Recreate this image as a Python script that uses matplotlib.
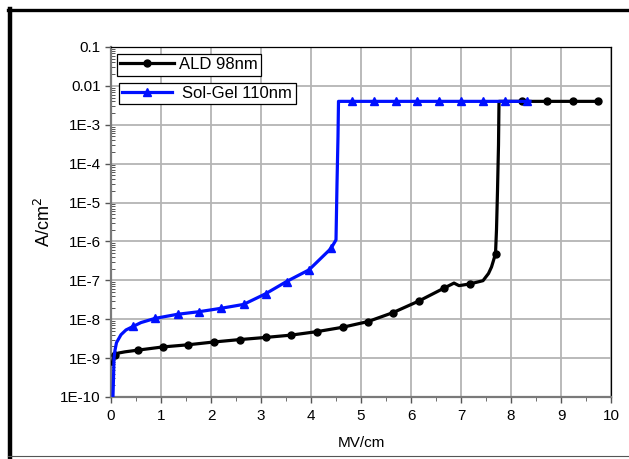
# -*- coding: utf-8 -*-

"""J-E curves of ALD and Sol-Gel films on a log scale."""

import matplotlib
matplotlib.use('Agg')
import matplotlib.pyplot as plt
from matplotlib.lines import Line2D
from matplotlib.ticker import FixedLocator, LogLocator, FuncFormatter
import numpy as np

plt.rcParams['font.family'] = ['Liberation Sans', 'DejaVu Sans']

# ALD 98nm: field (MV/cm) and current density (A/cm^2)
ald_x = [0.02, 0.05, 0.08, 0.15, 0.28, 0.53, 1.04, 1.54, 2.06, 2.58, 3.09,
         3.60, 4.12, 4.63, 5.14, 5.64, 6.16, 6.66, 6.86, 6.96, 7.18, 7.44,
         7.55, 7.61, 7.69, 7.71, 7.73, 7.75, 7.76, 8.21, 8.72, 9.23, 9.74]
ald_y = [7e-10, 1.0e-9, 1.2e-9, 1.35e-9, 1.45e-9, 1.6e-9, 1.94e-9, 2.2e-9,
         2.6e-9, 3.0e-9, 3.4e-9, 3.9e-9, 4.8e-9, 6.2e-9, 8.7e-9, 1.48e-8,
         2.95e-8, 6.3e-8, 8.5e-8, 7.3e-8, 8.1e-8, 9.8e-8, 1.5e-7, 2.2e-7,
         4.8e-7, 2e-6, 2e-5, 3e-4, 4e-3, 4e-3, 4e-3, 4e-3, 4e-3]
ald_marks = [2, 5, 6, 7, 8, 9, 10, 11, 12, 13, 14, 15, 16, 17, 20, 24,
             29, 30, 31, 32]

# Sol-Gel 110nm
sg_x = [0.04, 0.05, 0.06, 0.08, 0.11, 0.20, 0.30, 0.44, 0.60, 0.88, 1.33,
        1.76, 2.19, 2.65, 3.09, 3.51, 3.96, 4.40, 4.50, 4.52, 4.54, 4.55,
        4.81, 5.26, 5.69, 6.11, 6.56, 7.00, 7.43, 7.88, 8.31, 8.38]
sg_y = [1.1e-10, 3e-10, 1.0e-9, 1.6e-9, 2.5e-9, 4e-9, 5.3e-9, 6.5e-9,
        8.2e-9, 1.05e-8, 1.34e-8, 1.56e-8, 1.9e-8, 2.4e-8, 4.5e-8, 9.3e-8,
        1.86e-7, 6.6e-7, 1.1e-6, 3e-5, 5e-4, 4e-3, 4e-3, 4e-3, 4e-3, 4e-3,
        4e-3, 4e-3, 4e-3, 4e-3, 4e-3, 4e-3]
sg_marks = [7, 9, 10, 11, 12, 13, 14, 15, 16, 17, 22, 23, 24, 25, 26, 27,
            28, 29, 30]

y_ticks = [1e-1, 1e-2, 1e-3, 1e-4, 1e-5, 1e-6, 1e-7, 1e-8, 1e-9, 1e-10]
y_labels = ['0.1', '0.01', '1E-3', '1E-4', '1E-5', '1E-6', '1E-7', '1E-8',
            '1E-9', '1E-10']

fig = plt.figure(figsize=(6.29, 4.59), dpi=100)
ax = fig.add_axes([111 / 629, 1 - 397 / 459, 500 / 629, 350 / 459])

ln_ald, = ax.plot(ald_x, ald_y, color='black', lw=2.3, marker='o',
                  markersize=5, markevery=ald_marks, zorder=3)
ln_sg, = ax.plot(sg_x, sg_y, color='#0010ff', lw=2.3, marker='^',
                 markersize=6, markevery=sg_marks, zorder=4)

ax.set_yscale('log')
ax.set_xlim(0, 10)
ax.set_ylim(1e-10, 1e-1)

# ticks and grid
ax.set_xticks(range(0, 11))
ax.xaxis.set_minor_locator(FixedLocator(np.arange(0.5, 10, 1.0)))
ax.yaxis.set_major_locator(FixedLocator(y_ticks))
ax.yaxis.set_major_formatter(FuncFormatter(
    lambda v, p: y_labels[y_ticks.index(min(y_ticks, key=lambda t: abs(np.log10(t) - np.log10(v))))]))
ax.yaxis.set_minor_locator(LogLocator(base=10, subs=np.arange(2, 10), numticks=20))
ax.tick_params(axis='both', which='major', labelsize=11, direction='out',
               length=4, width=1, color='#555555')
ax.tick_params(axis='x', which='minor', direction='out', length=3,
               color='#555555')
ax.tick_params(axis='y', which='minor', direction='in', length=3,
               width=0.7, color='#555555')
ax.tick_params(axis='x', pad=5)
ax.grid(True, which='major', color='#b4b4b4', lw=1.3)
ax.set_axisbelow(True)

for side in ['bottom', 'left']:
    ax.spines[side].set_color('#7a7a7a')
    ax.spines[side].set_linewidth(1.6)
for side in ['top', 'right']:
    ax.spines[side].set_color('black')
    ax.spines[side].set_linewidth(0.9)

ax.set_xlabel('MV/cm', fontsize=11, labelpad=9)
ax.set_ylabel('A/cm$^2$', fontsize=13, labelpad=4)

# two staggered legend boxes
leg1 = ax.legend([ln_ald], ['ALD 98nm'], loc='upper left',
                 bbox_to_anchor=(0.012, 0.98), fontsize=12, fancybox=False,
                 edgecolor='black', framealpha=1, handlelength=3.2,
                 borderpad=0.2, borderaxespad=0, handletextpad=0.3)
leg1.get_frame().set_linewidth(0.9)
ax.add_artist(leg1)
leg2 = ax.legend([ln_sg], ['Sol-Gel 110nm'], loc='upper left',
                 bbox_to_anchor=(0.016, 0.898), fontsize=12, fancybox=False,
                 edgecolor='black', framealpha=1, handlelength=3.0,
                 borderpad=0.2, borderaxespad=0, handletextpad=0.6)
leg2.get_frame().set_linewidth(0.9)

# frame around the picture
fig.add_artist(Line2D([8 / 629, 1], [1 - 10 / 459] * 2, color='black', lw=2.4))
fig.add_artist(Line2D([10 / 629] * 2, [0, 1 - 9 / 459], color='black', lw=3.2))
fig.add_artist(Line2D([8 / 629, 1], [1 - 456 / 459] * 2, color='#555555', lw=0.8))

fig.savefig('out.png', dpi=100)
